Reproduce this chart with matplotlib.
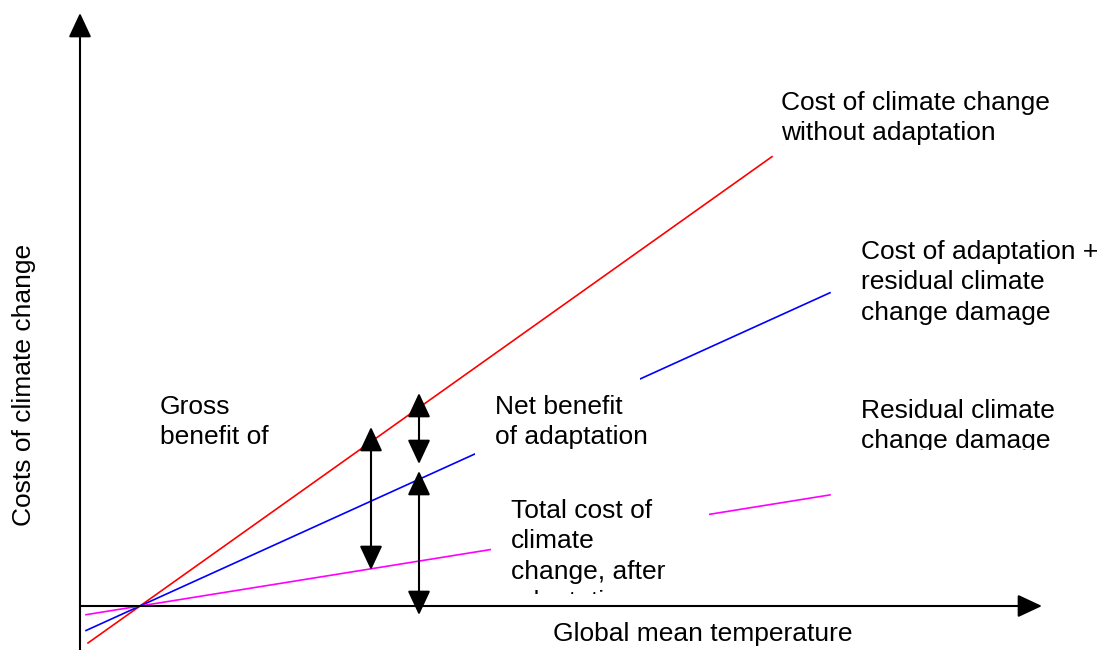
import matplotlib
matplotlib.use("Agg")
import matplotlib.pyplot as plt
from matplotlib.patches import Rectangle

plt.rcParams['font.family'] = ['Liberation Sans', 'DejaVu Sans']

# conceptual lines: cost = slope * (temperature - crossing point)
temp_range = [-54, 690]
red_range = [-52, 632]
slope_no_adapt = 0.711     # cost of climate change without adaptation
slope_adapt_total = 0.454  # cost of adaptation + residual damage
slope_residual = 0.161     # residual climate change damage

# where the benefit arrows sit on the temperature axis
t_gross = 231
t_net = 279

fig = plt.figure(figsize=(11.14, 6.5), dpi=100)
ax = fig.add_axes([0, 0, 1, 1])
ax.set_xlim(-140, 974)
ax.set_ylim(-44, 606)
ax.axis('off')

# lines
ax.plot(red_range, [slope_no_adapt * t for t in red_range], color='red', lw=1.2, zorder=2)
ax.plot(temp_range, [slope_adapt_total * t for t in temp_range], color='blue', lw=1.2, zorder=2)
ax.plot(temp_range, [slope_residual * t for t in temp_range], color='magenta', lw=1.2, zorder=2)

# axes with arrow heads
axis_style = dict(arrowstyle='-|>,head_length=0.75,head_width=0.35', color='black',
                  lw=1.5, shrinkA=0, shrinkB=0, mutation_scale=20)
ax.annotate('', xy=(-60, 593), xytext=(-60, -44), arrowprops=axis_style, zorder=4)
ax.annotate('', xy=(902, 0), xytext=(-60, 0), arrowprops=axis_style, zorder=4)

# benefit arrows
dbl = dict(arrowstyle='<|-|>,head_length=0.75,head_width=0.35', color='black',
           lw=1.5, shrinkA=0, shrinkB=0, mutation_scale=20)
ax.annotate('', xy=(t_gross, 179), xytext=(t_gross, 36), arrowprops=dbl, zorder=4)
ax.annotate('', xy=(t_net, 213), xytext=(t_net, 142), arrowprops=dbl, zorder=4)
ax.annotate('', xy=(t_net, 135), xytext=(t_net, -9), arrowprops=dbl, zorder=4)

# white label boxes that hide the lines
def box(x0, y0, x1, y1):
    ax.add_patch(Rectangle((x0, y0), x1 - x0, y1 - y0, facecolor='white',
                           edgecolor='none', zorder=3))
    return Rectangle((x0, y0), x1 - x0, y1 - y0, transform=ax.transData)

fs = 19
def label(x, y, s, clip=None):
    t = ax.text(x, y, s, fontsize=fs, ha='left', va='top', linespacing=1.33, zorder=5)
    if clip is not None:
        t.set_clip_path(clip)
        t.set_clip_on(True)

label(641, 515, 'Cost of climate change\nwithout adaptation')
label(721, 366, 'Cost of adaptation +\nresidual climate\nchange damage')
box(335, 146, 500, 236)
label(355, 211, 'Net benefit\nof adaptation')
c = box(351, 12, 569, 125)
label(371, 107, 'Total cost of\nclimate\nchange, after\nadaptation', clip=c)
c = box(700, 156, 960, 226)
label(721, 207, 'Residual climate\nchange damage', clip=c)
c = box(5, 156, 160, 226)
label(20, 211, 'Gross\nbenefit of\nadaptation', clip=c)

ax.text(-116, 221, 'Costs of climate change', fontsize=fs, rotation=90, ha='center', va='center')
ax.text(563, -28, 'Global mean temperature', fontsize=fs, ha='center', va='center')

fig.savefig('out.png', dpi=100)
